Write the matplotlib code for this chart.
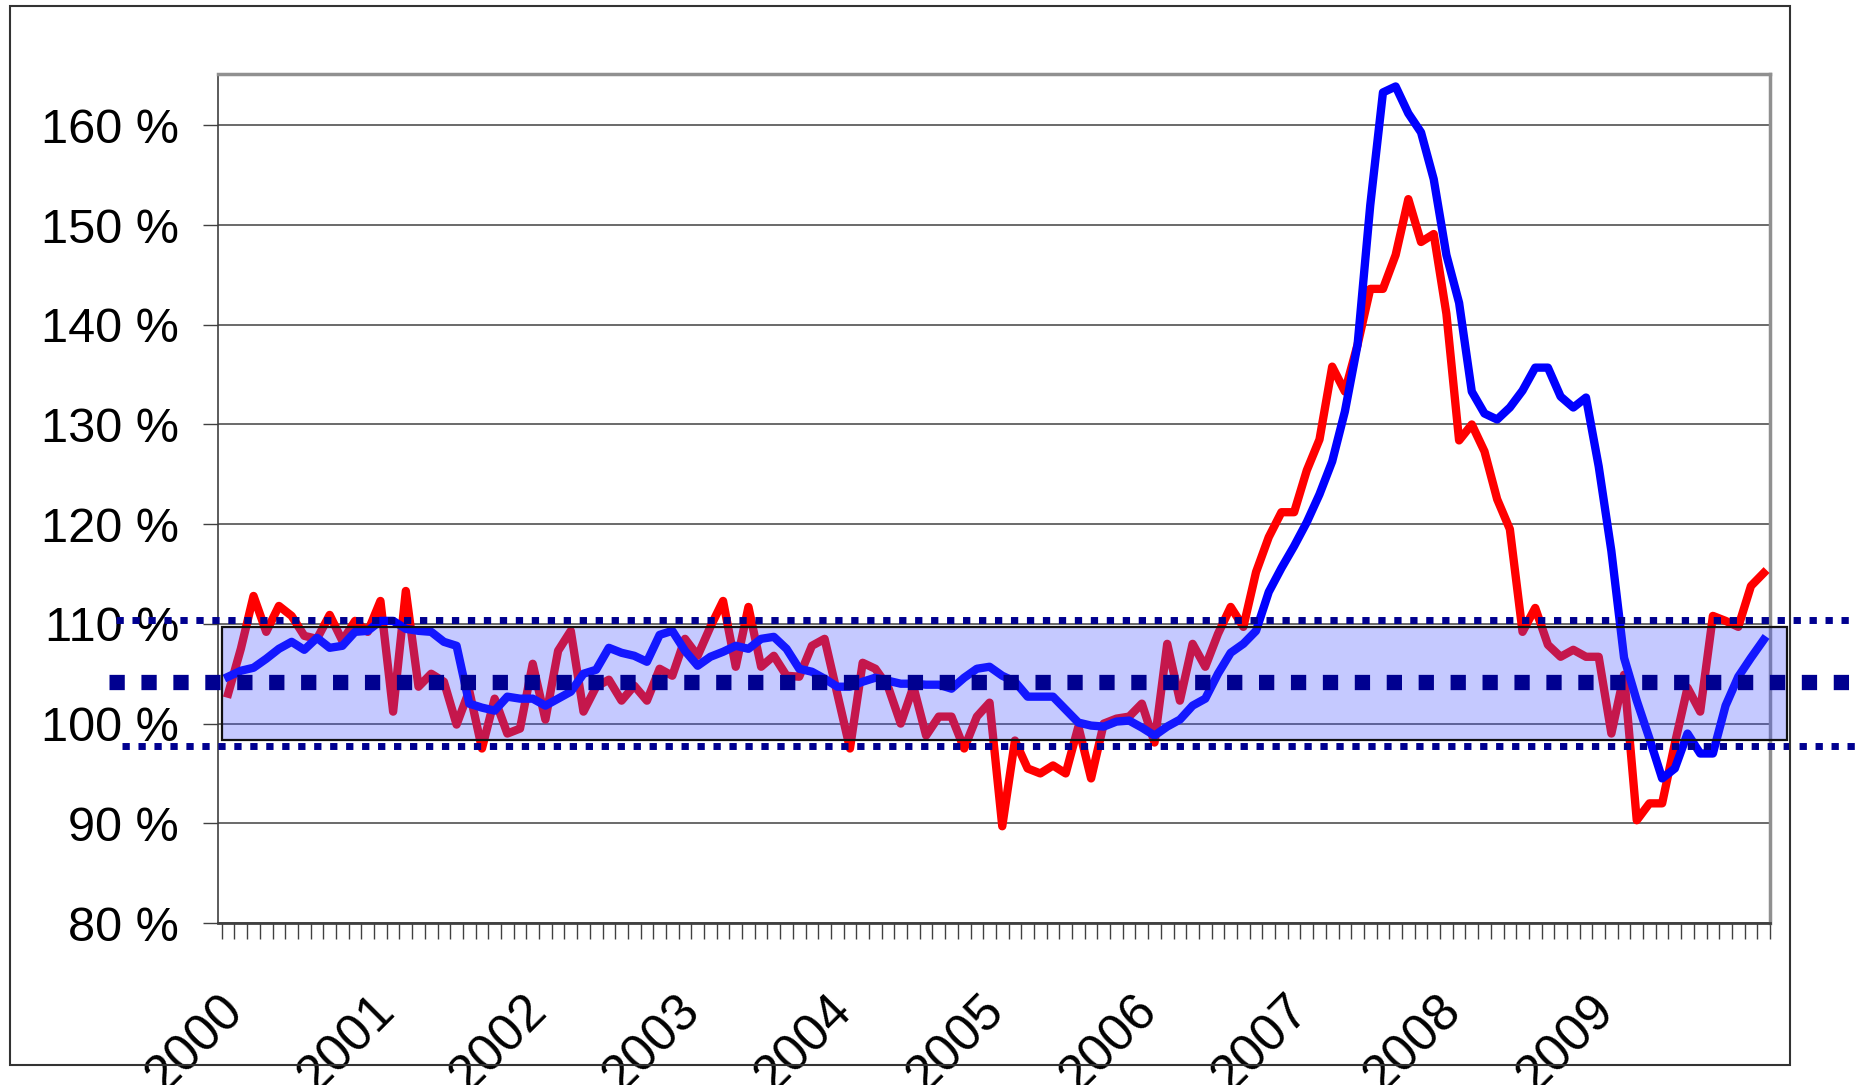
import matplotlib.pyplot as plt
import numpy as np
from matplotlib.patches import Rectangle

plt.rcParams['font.family'] = ['Liberation Sans', 'DejaVu Sans']

# monthly values, 122 points
red_vals = [103.0, 107.5, 112.8, 109.2, 111.8, 110.8, 108.8, 108.5, 110.9, 108.3,
            110.3, 109.2, 112.3, 101.2, 113.3, 103.7, 105.0, 104.2, 99.9, 103.3,
            97.5, 102.5, 99.0, 99.5, 106.0, 100.4, 107.3, 109.3, 101.2, 103.7,
            104.4, 102.3, 103.8, 102.3, 105.5, 104.8, 108.5, 106.8, 109.7, 112.3,
            105.7, 111.7, 105.7, 106.8, 104.8, 104.7, 107.8, 108.5, 103.0, 97.5,
            106.1, 105.5, 103.7, 100.0, 103.7, 98.8, 100.7, 100.7, 97.5, 100.7,
            102.1, 89.7, 98.3, 95.5, 95.0, 95.8, 95.0, 99.7, 94.5, 100.0,
            100.5, 100.7, 102.0, 98.1, 108.0, 102.3, 108.0, 105.7, 109.0, 111.7,
            109.7, 115.2, 118.7, 121.2, 121.2, 125.4, 128.5, 135.8, 133.3, 138.0,
            143.6, 143.6, 147.0, 152.6, 148.3, 149.1, 141.1, 128.4, 130.0, 127.3,
            122.5, 119.5, 109.2, 111.6, 107.9, 106.7, 107.4, 106.7, 106.7, 99.0,
            104.9, 90.3, 92.0, 92.0, 98.0, 103.6, 101.2, 110.8, 110.3, 109.7,
            113.8, 115.1]
blue_vals = [104.7, 105.3, 105.6, 106.5, 107.5, 108.2, 107.4, 108.6, 107.6, 107.8,
             109.2, 109.3, 110.3, 110.3, 109.5, 109.3, 109.2, 108.2, 107.8, 102.0,
             101.6, 101.3, 102.7, 102.5, 102.5, 101.8, 102.5, 103.2, 105.0, 105.4,
             107.6, 107.1, 106.8, 106.2, 108.9, 109.3, 107.3, 105.8, 106.7, 107.2,
             107.8, 107.5, 108.5, 108.7, 107.5, 105.5, 105.2, 104.5, 103.7, 103.7,
             104.2, 104.6, 104.3, 104.0, 104.0, 103.9, 103.9, 103.5, 104.6, 105.5,
             105.7, 104.8, 104.2, 102.7, 102.7, 102.7, 101.4, 100.1, 99.8, 99.7,
             100.2, 100.3, 99.6, 98.8, 99.7, 100.4, 101.8, 102.5, 105.0, 107.1,
             108.0, 109.3, 113.2, 115.6, 117.8, 120.2, 123.0, 126.3, 131.3, 138.0,
             152.0, 163.3, 163.9, 161.2, 159.3, 154.6, 147.0, 142.2, 133.3, 131.1,
             130.5, 131.7, 133.4, 135.7, 135.7, 132.8, 131.7, 132.7, 125.8, 117.3,
             106.6, 102.3, 98.5, 94.5, 95.5, 99.0, 97.0, 97.0, 101.8, 104.7,
             106.6, 108.4]
years = ['2000', '2001', '2002', '2003', '2004', '2005', '2006', '2007', '2008', '2009']
y_ticks = [80, 90, 100, 110, 120, 130, 140, 150, 160]

band_low, band_high = 98.33, 109.67
upper_ref, mean_ref, lower_ref = 110.43, 104.13, 97.73

x = np.arange(len(red_vals))

fig = plt.figure(figsize=(18.56, 10.85), dpi=100)
ax = fig.add_axes([218 / 1856, 1 - 923 / 1085, 1552 / 1856, 849.5 / 1085])

ax.plot(x, red_vals, color='#ff0000', lw=6, solid_joinstyle='round', zorder=3)
ax.plot(x, blue_vals, color='#0000ff', lw=6, solid_joinstyle='round', zorder=3.1)

# shaded band, drawn over the lines
ax.add_patch(Rectangle((-0.5, band_low), 123.35, band_high - band_low,
                       facecolor=(0.25, 0.3, 1.0, 0.3), edgecolor='none',
                       zorder=4, clip_on=False))
ax.add_patch(Rectangle((-0.5, band_low), 123.35, band_high - band_low,
                       fill=False, edgecolor='#111111', lw=1.6,
                       zorder=4.1, clip_on=False))

# dotted reference lines
ax.plot([-8.86, 130], [upper_ref] * 2, color='#000090', lw=5,
        linestyle=(0, (1.05, 1.25)), zorder=5, clip_on=False)
ax.plot([-9.38, 130], [mean_ref] * 2, color='#000090', lw=11,
        linestyle=(0, (1.0, 1.09)), zorder=5, clip_on=False)
ax.plot([-8.36, 130], [lower_ref] * 2, color='#000090', lw=5,
        linestyle=(0, (1.05, 1.25)), zorder=5, clip_on=False)

ax.set_xlim(-0.5, len(red_vals) - 0.5)
ax.set_ylim(80, 165.2)

ax.set_yticks(y_ticks)
ax.set_yticklabels([f'{v} %' for v in y_ticks])
ax.yaxis.grid(True, color='#505050', lw=1.2)
ax.set_axisbelow(True)
ax.tick_params(axis='y', direction='out', length=11, width=1, color='#404040',
               pad=17, labelsize=35)

ax.set_xticks(np.arange(-0.5, len(red_vals), 1))
ax.set_xticklabels([])
ax.tick_params(axis='x', which='major', direction='out', length=11.5, width=1,
               color='#404040')
ax.set_xticks(np.arange(len(years)) * 12 - 0.8, labels=years, minor=True)
ax.tick_params(axis='x', which='minor', length=0, pad=45, labelsize=37)
for lab in ax.get_xticklabels(minor=True):
    lab.set_rotation(45)
    lab.set_ha('right')
    lab.set_va('top')
    lab.set_rotation_mode('anchor')

for side in ['top', 'right']:
    ax.spines[side].set_color('#909090')
    ax.spines[side].set_linewidth(2.5)
ax.spines['left'].set_color('#404040')
ax.spines['left'].set_linewidth(1.2)
ax.spines['bottom'].set_color('#404040')
ax.spines['bottom'].set_linewidth(2)

# outer chart frame
fig.patches.append(Rectangle((9.8 / 1856, 1 - 1065 / 1085), 1780 / 1856, 1059 / 1085,
                             transform=fig.transFigure, fill=False,
                             edgecolor='#333333', lw=1.5, zorder=10))

fig.savefig('out.png', dpi=100)
